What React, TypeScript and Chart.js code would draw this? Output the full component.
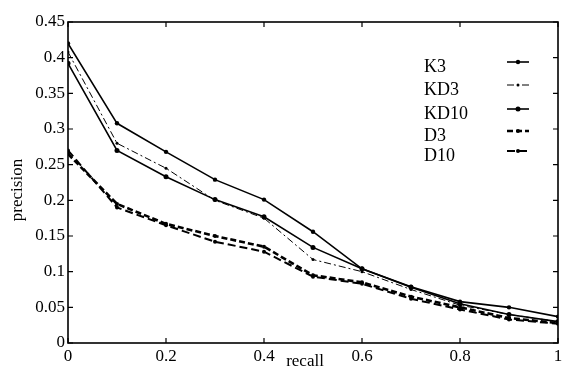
import React, { useEffect, useRef } from "react";
import { Chart, registerables } from "chart.js";

Chart.register(...registerables);

const recall = [0, 0.1, 0.2, 0.3, 0.4, 0.5, 0.6, 0.7, 0.8, 0.9, 1];
const K3 = [0.42, 0.308, 0.268, 0.229, 0.201, 0.156, 0.104, 0.079, 0.058, 0.05, 0.037];
const KD3 = [0.408, 0.28, 0.245, 0.2, 0.175, 0.117, 0.1, 0.075, 0.053, 0.04, 0.03];
const KD10 = [0.392, 0.27, 0.233, 0.201, 0.177, 0.134, 0.104, 0.078, 0.055, 0.04, 0.03];
const D3 = [0.265, 0.195, 0.167, 0.15, 0.135, 0.095, 0.085, 0.065, 0.05, 0.035, 0.028];
const D10 = [0.27, 0.19, 0.165, 0.142, 0.128, 0.093, 0.083, 0.062, 0.047, 0.033, 0.027];
const seriesNames = ["K3", "KD3", "KD10", "D3", "D10"];
const xTicks = [0, 0.2, 0.4, 0.6, 0.8, 1];
const yTicks = [0, 0.05, 0.1, 0.15, 0.2, 0.25, 0.3, 0.35, 0.4, 0.45];

const FONT = "'Liberation Serif', 'DejaVu Serif', serif";

const styles = [
  { dash: [] as number[], width: 1.6, point: 2.2 },
  { dash: [7, 3, 2, 3], width: 1, point: 1.5 },
  { dash: [] as number[], width: 1.6, point: 2.5 },
  { dash: [6, 3], width: 2.6, point: 2 },
  { dash: [8, 4], width: 2, point: 2 },
];

const framePlugin = {
  id: "frame",
  afterDatasetsDraw(chart: any) {
    const { ctx, chartArea: a, scales } = chart;
    const xs = scales.x;
    const ys = scales.y;
    ctx.save();
    ctx.strokeStyle = "#000";
    ctx.lineWidth = 1.6;
    ctx.setLineDash([]);
    ctx.strokeRect(a.left, a.top, a.right - a.left, a.bottom - a.top);
    ctx.lineWidth = 1.2;
    ctx.beginPath();
    yTicks.forEach((v) => {
      const y = ys.getPixelForValue(v);
      ctx.moveTo(a.left, y);
      ctx.lineTo(a.left + 5, y);
      ctx.moveTo(a.right, y);
      ctx.lineTo(a.right - 5, y);
    });
    xTicks.forEach((v) => {
      const x = xs.getPixelForValue(v);
      ctx.moveTo(x, a.bottom);
      ctx.lineTo(x, a.bottom - 5);
      ctx.moveTo(x, a.top);
      ctx.lineTo(x, a.top + 5);
    });
    ctx.stroke();

    // axis titles
    ctx.fillStyle = "#000";
    ctx.font = `17px ${FONT}`;
    ctx.textAlign = "center";
    ctx.textBaseline = "middle";
    ctx.fillText("recall", 305, 362);
    ctx.save();
    ctx.translate(18, 190);
    ctx.rotate(-Math.PI / 2);
    ctx.fillText("precision", 0, 0);
    ctx.restore();

    // legend
    ctx.font = `18px ${FONT}`;
    ctx.textAlign = "left";
    const rows = [67, 90, 114, 136, 156];
    chart.data.datasets.forEach((ds: any, i: number) => {
      const ty = rows[i];
      ctx.fillText(ds.label, 424, ty);
      const ly = ty - 5;
      ctx.setLineDash(styles[i].dash);
      ctx.lineWidth = styles[i].width;
      ctx.beginPath();
      ctx.moveTo(507, ly);
      ctx.lineTo(529, ly);
      ctx.stroke();
      ctx.setLineDash([]);
      ctx.beginPath();
      ctx.arc(518, ly, styles[i].point, 0, Math.PI * 2);
      ctx.fill();
    });
    ctx.restore();
  },
};

export default function App() {
  const ref = useRef<HTMLCanvasElement>(null);
  useEffect(() => {
    document.body.style.margin = "0";
    const series = [K3, KD3, KD10, D3, D10];
    const chart = new Chart(ref.current!, {
      type: "line",
      data: {
        datasets: series.map((s, i) => ({
          label: seriesNames[i],
          data: recall.map((r, j) => ({ x: r, y: s[j] })),
          borderColor: "#000",
          backgroundColor: "#000",
          borderWidth: styles[i].width,
          borderDash: styles[i].dash,
          pointRadius: styles[i].point,
          pointBorderWidth: 0,
          tension: 0,
          fill: false,
        })),
      },
      options: {
        animation: false,
        responsive: false,
        layout: { padding: { top: 22, right: 2, left: 0, bottom: 0 } },
        plugins: { legend: { display: false }, tooltip: { enabled: false } },
        scales: {
          x: {
            type: "linear",
            min: 0,
            max: 1,
            afterBuildTicks: (s: any) => {
              s.ticks = xTicks.map((v) => ({ value: v }));
            },
            afterFit: (s: any) => {
              s.height = 28;
              s.paddingRight = 0;
              s.paddingLeft = 0;
            },
            grid: { display: false, drawTicks: false },
            border: { display: false },
            ticks: {
              padding: 3,
              color: "#000",
              font: { family: FONT, size: 17 },
              maxRotation: 0,
              callback: (v: any) => String(Number(Number(v).toFixed(2))),
            },
          },
          y: {
            type: "linear",
            min: 0,
            max: 0.45,
            afterBuildTicks: (s: any) => {
              s.ticks = yTicks.map((v) => ({ value: v }));
            },
            afterFit: (s: any) => {
              s.width = 68;
              s.paddingTop = 0;
              s.paddingBottom = 0;
            },
            grid: { display: false, drawTicks: false },
            border: { display: false },
            ticks: {
              padding: 3,
              color: "#000",
              font: { family: FONT, size: 17 },
              callback: (v: any) => String(Number(Number(v).toFixed(2))),
            },
          },
        },
      },
      plugins: [framePlugin],
    } as any);
    return () => chart.destroy();
  }, []);
  return <canvas ref={ref} width={562} height={371} style={{ display: "block" }} />;
}
